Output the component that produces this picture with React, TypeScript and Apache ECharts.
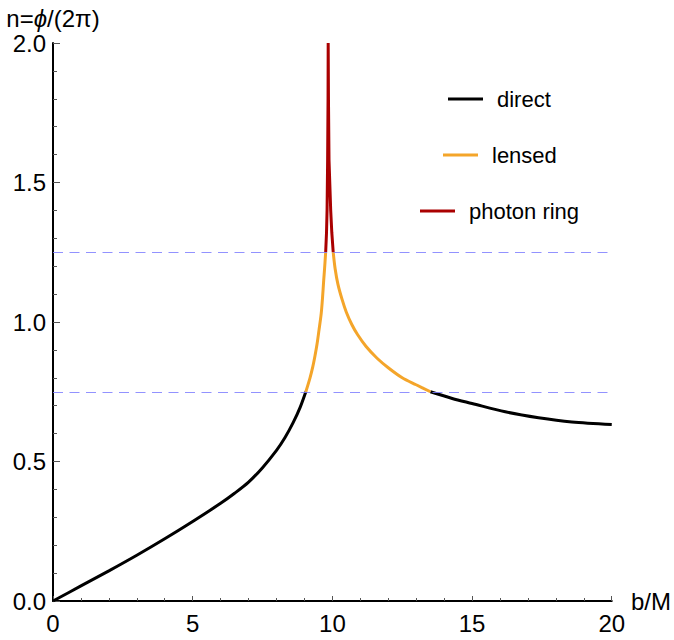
import React, { useEffect, useRef } from "react";
import * as echarts from "echarts";

// ---- data ----
const directInnerB = [0, 1, 2, 3, 4, 5, 6, 6.5, 7, 7.5, 8, 8.3, 8.6, 8.85, 9.05];
const directInnerN = [0, 0.054, 0.108, 0.164, 0.223, 0.285, 0.35, 0.386, 0.426, 0.478, 0.54, 0.585, 0.64, 0.695, 0.75];

const directOuterB = [13.51, 14.29, 15, 16.19, 17.38, 18.57, 20];
const directOuterN = [0.75, 0.726, 0.708, 0.678, 0.657, 0.642, 0.633];

const lensedLeftB = [9.05, 9.2, 9.3, 9.38, 9.45, 9.52, 9.6, 9.65, 9.69, 9.72, 9.76];
const lensedLeftN = [0.75, 0.8, 0.84, 0.88, 0.92, 0.97, 1.03, 1.09, 1.15, 1.19, 1.25];

const lensedRightB = [10.03, 10.1, 10.2, 10.35, 10.5, 10.7, 10.9, 11.2, 11.6, 12.0, 12.5, 13.0, 13.51];
const lensedRightN = [1.25, 1.19, 1.135, 1.08, 1.035, 0.99, 0.955, 0.913, 0.87, 0.836, 0.8, 0.775, 0.75];

const ringB = [9.76, 9.79, 9.81, 9.83, 9.845, 9.85, 9.86, 9.88, 9.94, 9.98, 10.03];
const ringN = [1.25, 1.32, 1.4, 1.58, 1.8, 2.0, 1.8, 1.58, 1.4, 1.32, 1.25];

const thresholds = [0.75, 1.25];
const legendNames = ["direct", "lensed", "photon ring"];

const xTicks = { min: 0, max: 20, interval: 5 };
const yTicks = { min: 0, max: 2, interval: 0.5 };

// ---- styles ----
const FONT = "'Liberation Sans', Arial, 'DejaVu Sans', sans-serif";
const C_DIRECT = "#000000";
const C_LENSED = "#F4A52A";
const C_RING = "#AA0000";

const zip = (xs: number[], ys: number[]) => xs.map((x, i) => [x, ys[i]]);

export default function App() {
  const ref = useRef<HTMLDivElement>(null);

  useEffect(() => {
    if (!ref.current) return;
    const chart = echarts.init(ref.current, undefined, { renderer: "svg" });

    const lineSeries = (name: string, data: number[][], color: string, smooth: boolean | number, extra: any = {}) => ({
      type: "line",
      name,
      data,
      showSymbol: false,
      symbol: "none",
      smooth,
      lineStyle: { color, width: 3 },
      itemStyle: { color },
      silent: true,
      ...extra,
    });

    const colors = [C_DIRECT, C_LENSED, C_RING];
    const legendY = [99, 155, 211];
    const legendLineX = [448, 443, 420];
    const legendGraphics: any[] = [];
    legendNames.forEach((nm, i) => {
      const lineLen = 35;
      const gap = 14;
      const x0 = legendLineX[i];
      legendGraphics.push({
        type: "line",
        shape: { x1: x0, y1: legendY[i], x2: x0 + lineLen, y2: legendY[i] },
        style: { stroke: colors[i], lineWidth: 3 },
        silent: true,
      });
      legendGraphics.push({
        type: "text",
        x: x0 + lineLen + gap,
        y: legendY[i],
        style: {
          text: nm,
          fill: "#000",
          font: `22px ${FONT}`,
          verticalAlign: "middle",
        },
        silent: true,
      });
    });

    chart.setOption({
      animation: false,
      backgroundColor: "#ffffff",
      grid: { left: 53, right: 61, top: 43, bottom: 39, containLabel: false },
      xAxis: {
        type: "value",
        min: xTicks.min,
        max: xTicks.max,
        interval: xTicks.interval,
        name: "b/M",
        nameLocation: "end",
        nameGap: 14,
        nameTextStyle: { fontSize: 24, color: "#000", fontFamily: FONT },
        axisLine: { show: true, onZero: false, lineStyle: { color: "#000", width: 2 } },
        axisTick: { show: true, inside: true, length: 5, lineStyle: { color: "#555", width: 1 } },
        minorTick: { show: true, splitNumber: 5, length: 3, lineStyle: { color: "#555", width: 1 } },
        splitLine: { show: false },
        axisLabel: { fontSize: 24, color: "#000", fontFamily: FONT, margin: 10 },
      },
      yAxis: {
        type: "value",
        min: yTicks.min,
        max: yTicks.max,
        interval: yTicks.interval,
        name: "n={i|ϕ}/(2π)",
        nameLocation: "end",
        nameGap: 14,
        nameTextStyle: {
          fontSize: 24,
          color: "#000",
          fontFamily: FONT,
          align: "center",
          lineHeight: 22,
          rich: { i: { fontSize: 24, fontStyle: "italic", fontFamily: FONT, color: "#000", lineHeight: 22 } },
        },
        axisLine: { show: true, onZero: false, lineStyle: { color: "#000", width: 2 } },
        axisTick: { show: true, inside: true, length: 7, lineStyle: { color: "#555", width: 1 } },
        minorTick: { show: true, splitNumber: 5, length: 4, lineStyle: { color: "#555", width: 1 } },
        splitLine: { show: false },
        axisLabel: {
          fontSize: 24,
          color: "#000",
          fontFamily: FONT,
          margin: 7,
          formatter: (v: number) => v.toFixed(1),
        },
      },
      series: [
        lineSeries("direct", zip(directInnerB, directInnerN), C_DIRECT, 0.3, {
          markLine: {
            silent: true,
            symbol: ["none", "none"],
            label: { show: false },
            lineStyle: { color: "#7f7fff", type: [10, 6.5], width: 1, opacity: 0.85 },
            data: thresholds.map((t) => ({ yAxis: t })),
          },
        }),
        lineSeries("direct", zip(directOuterB, directOuterN), C_DIRECT, 0.3),
        lineSeries("lensed", zip(lensedLeftB, lensedLeftN), C_LENSED, 0.3),
        lineSeries("lensed", zip(lensedRightB, lensedRightN), C_LENSED, 0.3),
        lineSeries("photon ring", zip(ringB, ringN), C_RING, false),
      ],
      graphic: legendGraphics,
    });

    return () => chart.dispose();
  }, []);

  return (
    <div
      ref={ref}
      style={{ position: "absolute", left: 0, top: 0, width: 674, height: 640, background: "#fff" }}
    />
  );
}
